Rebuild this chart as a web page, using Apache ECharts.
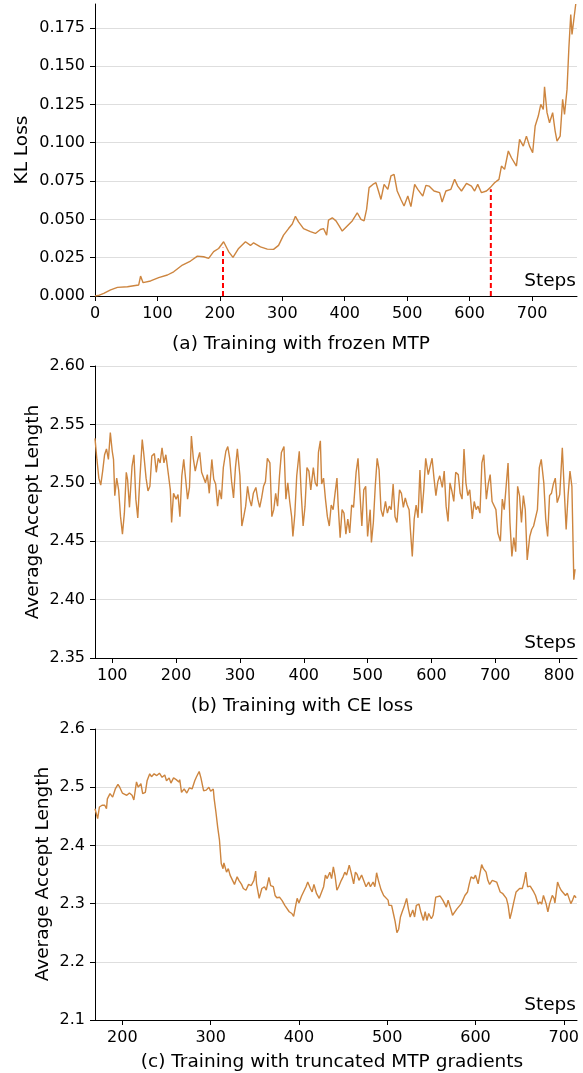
<!DOCTYPE html>
<html>
<head>
<meta charset="utf-8">
<script src="https://cdn.jsdelivr.net/npm/echarts@6/dist/echarts.min.js"></script>
<style>
html,body{margin:0;padding:0;background:#fff;}
#chart{width:583px;height:1073px;}
</style>
</head>
<body>
<div id="chart"></div>
<script>
// ---- Data ----
// (a) KL loss vs steps, frozen MTP
const klLoss = [[0,0],[5,0.0003],[14,0.0017],[25,0.004],[36,0.0056],[52,0.006],[62,0.0067],[70,0.0072],[73,0.013],[77,0.0087],[89,0.0098],[102,0.012],[116,0.0137],[126,0.0158],[140,0.0202],[153,0.0228],[164,0.026],[174,0.0256],[182,0.0245],[190,0.0289],[198,0.031],[206,0.0354],[214,0.029],[221,0.0252],[230,0.031],[241,0.0354],[249,0.033],[254,0.0347],[265,0.032],[276,0.0306],[286,0.0304],[294,0.033],[302,0.0397],[310,0.044],[316,0.047],[321,0.052],[326,0.0484],[334,0.044],[345,0.042],[353,0.0408],[361,0.0434],[366,0.044],[371,0.0397],[374,0.0495],[380,0.051],[386,0.049],[391,0.0457],[396,0.0424],[404,0.0457],[412,0.049],[420,0.0543],[426,0.05],[431,0.049],[435,0.0565],[439,0.0707],[445,0.0728],[450,0.0739],[454,0.0685],[458,0.063],[463,0.0728],[469,0.0696],[474,0.0783],[479,0.0793],[484,0.0685],[490,0.063],[495,0.0587],[501,0.0652],[506,0.0583],[512,0.0728],[517,0.0696],[525,0.0652],[530,0.0722],[535,0.0717],[543,0.0685],[552,0.0674],[556,0.0613],[562,0.0685],[570,0.0696],[576,0.0761],[581,0.0717],[587,0.0685],[595,0.0735],[603,0.0717],[608,0.0685],[613,0.0728],[619,0.0674],[627,0.0685],[633,0.0707],[640,0.0739],[647,0.0761],[651,0.0848],[656,0.0826],[662,0.0946],[667,0.0902],[675,0.0848],[680,0.1022],[686,0.0978],[691,0.1043],[696,0.0978],[701,0.0935],[705,0.1109],[710,0.1174],[714,0.125],[718,0.1217],[720,0.1365],[724,0.1196],[728,0.113],[733,0.1196],[737,0.1076],[740,0.1011],[745,0.1043],[749,0.1283],[752,0.1185],[756,0.1348],[759,0.162],[762,0.1837],[764,0.1707],[770,0.1905]];
const markerSteps = [205, 634];
const markerTops = [0.0315, 0.0696];

// (b) Average accept length, CE loss
const acceptCE = [[73,2.538],[76,2.520],[79,2.504],[82,2.498],[85,2.510],[88,2.524],[91,2.529],[94,2.520],[97,2.543],[100,2.527],[102,2.520],[104,2.489],[107,2.504],[110,2.494],[113,2.471],[116,2.456],[119,2.474],[122,2.509],[124,2.503],[127,2.479],[131,2.514],[134,2.524],[137,2.486],[140,2.470],[143,2.501],[147,2.537],[149,2.527],[153,2.504],[156,2.493],[159,2.497],[162,2.523],[166,2.525],[169,2.509],[172,2.521],[175,2.517],[178,2.530],[181,2.517],[184,2.524],[188,2.507],[191,2.494],[193,2.466],[196,2.491],[200,2.486],[203,2.490],[206,2.471],[209,2.506],[212,2.520],[215,2.503],[218,2.486],[221,2.496],[224,2.540],[227,2.521],[230,2.510],[234,2.520],[237,2.526],[240,2.509],[243,2.510],[246,2.500],[249,2.507],[252,2.491],[256,2.520],[259,2.503],[262,2.499],[265,2.480],[268,2.494],[271,2.486],[274,2.513],[278,2.527],[281,2.531],[284,2.521],[287,2.501],[290,2.487],[293,2.513],[296,2.529],[300,2.506],[303,2.463],[306,2.471],[309,2.480],[312,2.497],[315,2.486],[318,2.480],[321,2.491],[325,2.496],[328,2.486],[331,2.479],[334,2.487],[337,2.497],[340,2.501],[343,2.521],[347,2.517],[350,2.471],[353,2.477],[356,2.491],[359,2.480],[362,2.506],[365,2.526],[369,2.531],[372,2.486],[375,2.500],[378,2.484],[381,2.471],[383,2.454],[386,2.473],[389,2.506],[393,2.527],[396,2.491],[399,2.463],[402,2.480],[405,2.513],[408,2.510],[411,2.494],[415,2.513],[418,2.500],[421,2.497],[423,2.526],[426,2.536],[428,2.499],[431,2.504],[434,2.486],[437,2.471],[440,2.463],[443,2.481],[446,2.477],[449,2.491],[452,2.504],[454,2.480],[457,2.453],[460,2.477],[463,2.474],[466,2.456],[469,2.469],[472,2.457],[475,2.481],[478,2.479],[482,2.509],[485,2.521],[488,2.491],[491,2.463],[494,2.494],[497,2.497],[500,2.454],[504,2.477],[506,2.449],[509,2.466],[512,2.497],[515,2.521],[518,2.511],[521,2.477],[524,2.471],[528,2.484],[531,2.474],[534,2.480],[537,2.477],[540,2.499],[543,2.471],[546,2.466],[550,2.494],[553,2.491],[556,2.479],[559,2.487],[562,2.481],[565,2.477],[567,2.460],[570,2.437],[573,2.469],[576,2.481],[579,2.470],[582,2.511],[585,2.474],[588,2.494],[591,2.521],[595,2.507],[598,2.514],[601,2.521],[604,2.504],[607,2.489],[610,2.501],[613,2.506],[617,2.496],[620,2.510],[623,2.480],[626,2.467],[629,2.500],[632,2.493],[635,2.484],[638,2.509],[642,2.507],[645,2.491],[648,2.486],[651,2.529],[654,2.500],[657,2.489],[660,2.494],[664,2.469],[667,2.484],[670,2.477],[673,2.480],[676,2.474],[679,2.517],[682,2.524],[686,2.486],[689,2.499],[692,2.507],[695,2.484],[698,2.483],[701,2.477],[704,2.457],[708,2.450],[711,2.486],[714,2.477],[717,2.497],[720,2.517],[723,2.466],[726,2.437],[729,2.453],[732,2.441],[735,2.497],[738,2.489],[741,2.466],[744,2.489],[747,2.477],[750,2.434],[754,2.454],[757,2.460],[760,2.463],[763,2.464],[766,2.477],[769,2.513],[772,2.520],[776,2.500],[779,2.469],[782,2.454],[785,2.489],[788,2.491],[791,2.499],[794,2.504],[797,2.483],[801,2.490],[803,2.510],[805,2.530],[808,2.494],[811,2.460],[814,2.489],[817,2.510],[820,2.497],[823,2.417],[825,2.426]];

// (c) Average accept length, truncated MTP gradients
const acceptTrunc = [[169,2.463],[171,2.466],[172,2.446],[174,2.466],[177,2.469],[180,2.469],[182,2.463],[183,2.48],[186,2.489],[189,2.483],[192,2.497],[195,2.505],[197,2.50],[200,2.49],[202,2.491],[205,2.486],[208,2.49],[211,2.486],[213,2.478],[216,2.509],[218,2.50],[221,2.506],[223,2.489],[226,2.491],[228,2.511],[231,2.523],[233,2.518],[236,2.523],[239,2.52],[242,2.524],[245,2.517],[248,2.521],[250,2.511],[253,2.516],[255,2.507],[258,2.516],[261,2.513],[264,2.509],[265,2.513],[267,2.491],[270,2.497],[273,2.49],[276,2.499],[279,2.497],[282,2.511],[284,2.518],[287,2.527],[289,2.516],[292,2.494],[295,2.495],[298,2.50],[300,2.493],[303,2.497],[304,2.48],[306,2.457],[308,2.431],[310,2.409],[312,2.369],[314,2.36],[315,2.37],[318,2.354],[320,2.36],[322,2.349],[324,2.346],[327,2.333],[330,2.346],[332,2.34],[335,2.333],[337,2.326],[340,2.323],[343,2.333],[346,2.331],[349,2.34],[351,2.356],[352,2.334],[355,2.309],[358,2.326],[361,2.329],[363,2.323],[366,2.345],[368,2.331],[371,2.329],[373,2.314],[375,2.31],[378,2.311],[381,2.305],[384,2.297],[386,2.295],[389,2.286],[392,2.283],[394,2.278],[396,2.294],[398,2.309],[400,2.301],[403,2.313],[405,2.316],[408,2.329],[410,2.337],[413,2.326],[415,2.32],[417,2.333],[420,2.317],[423,2.309],[425,2.307],[428,2.329],[430,2.349],[432,2.343],[435,2.354],[437,2.343],[439,2.363],[441,2.347],[443,2.323],[445,2.329],[448,2.34],[450,2.346],[452,2.354],[454,2.349],[457,2.366],[459,2.354],[462,2.334],[464,2.354],[466,2.35],[468,2.34],[471,2.349],[474,2.337],[476,2.329],[479,2.337],[481,2.329],[484,2.337],[486,2.329],[488,2.353],[490,2.34],[493,2.324],[496,2.314],[498,2.313],[501,2.306],[502,2.297],[505,2.297],[507,2.283],[509,2.269],[511,2.25],[513,2.256],[515,2.277],[517,2.286],[519,2.294],[522,2.309],[524,2.291],[526,2.277],[529,2.289],[531,2.277],[533,2.297],[536,2.299],[538,2.286],[541,2.271],[543,2.286],[545,2.271],[547,2.283],[550,2.274],[552,2.28],[555,2.311],[557,2.309],[560,2.313],[563,2.306],[565,2.303],[567,2.294],[569,2.306],[572,2.291],[574,2.28],[576,2.278],[579,2.291],[581,2.289],[584,2.30],[586,2.30],[588,2.314],[591,2.32],[593,2.334],[595,2.346],[598,2.343],[600,2.349],[603,2.334],[605,2.351],[607,2.367],[609,2.36],[612,2.354],[614,2.34],[616,2.333],[619,2.34],[621,2.343],[624,2.337],[626,2.34],[628,2.32],[631,2.317],[633,2.316],[635,2.309],[637,2.297],[639,2.274],[641,2.286],[643,2.30],[646,2.32],[648,2.317],[650,2.326],[653,2.326],[655,2.337],[657,2.354],[659,2.329],[662,2.33],[664,2.329],[666,2.32],[668,2.314],[671,2.299],[673,2.303],[675,2.299],[677,2.314],[680,2.30],[682,2.286],[684,2.30],[687,2.314],[689,2.309],[690,2.301],[693,2.337],[695,2.329],[697,2.323],[699,2.326],[702,2.314],[704,2.318],[706,2.309],[708,2.30],[710,2.306],[712,2.314],[714,2.31]];

const captions = ['(a) Training with frozen MTP', '(b) Training with CE loss', '(c) Training with truncated MTP gradients'];
const yTitles = ['KL Loss', 'Average Accept Length', 'Average Accept Length'];
const xTitle = 'Steps';

// ---- Chart ----
const FONT = 'DejaVu Sans';
const LINE = '#CD853F';
const chart = echarts.init(document.getElementById('chart'), null, {renderer: 'canvas'});

const grids = [
  {left: 95, top: 4, width: 482, height: 292},
  {left: 95, top: 366, width: 482, height: 292},
  {left: 95, top: 729, width: 482, height: 291}
];

function xAx(i, min, max, extra, showMin) {
  return Object.assign({
    type: 'value', gridIndex: i, min: min, max: max,
    axisLine: {show: true, onZero: false, lineStyle: {color: '#000', width: 1}},
    axisTick: {show: true, length: 5, lineStyle: {color: '#000', width: 1}},
    axisLabel: {color: '#000', fontSize: 16, fontFamily: FONT, margin: 10,
      showMinLabel: !!showMin, showMaxLabel: false,
      formatter: v => (Math.abs(v - Math.round(v / 100) * 100) < 1e-6 ? String(Math.round(v)) : '')},
    splitLine: {show: false}
  }, extra);
}
function yAx(i, min, max, interval, dec, partialTop) {
  return {
    type: 'value', gridIndex: i, min: min, max: max, interval: interval,
    axisLine: {show: true, onZero: false, lineStyle: {color: '#000', width: 1}},
    axisTick: {show: true, length: 5, lineStyle: {color: '#000', width: 1}},
    axisLabel: {color: '#000', fontSize: 16, fontFamily: FONT, margin: 10,
      showMaxLabel: !partialTop,
      formatter: v => v.toFixed(dec)},
    splitLine: {show: true, showMinLine: false, showMaxLine: !partialTop,
      lineStyle: {color: '#dedede', width: 1}}
  };
}

const lineBase = {type: 'line', showSymbol: false, symbol: 'none', smooth: false,
  sampling: null, animation: false, lineStyle: {color: LINE, width: 1.4}, z: 3};

const series = [
  Object.assign({}, lineBase, {xAxisIndex: 0, yAxisIndex: 0, data: klLoss}),
  Object.assign({}, lineBase, {xAxisIndex: 1, yAxisIndex: 1, data: acceptCE}),
  Object.assign({}, lineBase, {xAxisIndex: 2, yAxisIndex: 2, data: acceptTrunc})
];
markerSteps.forEach((s, k) => {
  series.push({type: 'line', xAxisIndex: 0, yAxisIndex: 0, showSymbol: false, symbol: 'none',
    animation: false, z: 2,
    lineStyle: {color: '#ff0000', width: 2, type: [5, 3]},
    data: [[s, 0], [s, markerTops[k]]]});
});

const txt = (x, y, text, align, rot) => ({
  type: 'text', x: x, y: y, rotation: rot || 0, silent: true,
  style: {text: text, fill: '#000', fontSize: 18.5, fontFamily: FONT,
    textAlign: align, textVerticalAlign: 'middle', align: align, verticalAlign: 'middle'}
});

const graphics = [
  txt(301, 344, captions[0], 'center'),
  txt(302, 706, captions[1], 'center'),
  txt(332, 1062, captions[2], 'center'),
  txt(22, 150, yTitles[0], 'center', Math.PI / 2),
  txt(33, 512, yTitles[1], 'center', Math.PI / 2),
  txt(43, 874, yTitles[2], 'center', Math.PI / 2),
  txt(576, 281, xTitle, 'right'),
  txt(576, 643, xTitle, 'right'),
  txt(576, 1005, xTitle, 'right')
];

chart.setOption({
  animation: false,
  backgroundColor: '#fff',
  grid: grids,
  xAxis: [
    xAx(0, 0, 772, {interval: 100}, true),
    xAx(1, 73, 828, {splitNumber: 7}, false),
    xAx(2, 169, 715, {splitNumber: 5}, false)
  ],
  yAxis: [
    yAx(0, 0, 0.1905, 0.025, 3, true),
    yAx(1, 2.35, 2.60, 0.05, 2, false),
    yAx(2, 2.1, 2.6, 0.1, 1, false)
  ],
  series: series,
  graphic: graphics
});
</script>
</body>
</html>
